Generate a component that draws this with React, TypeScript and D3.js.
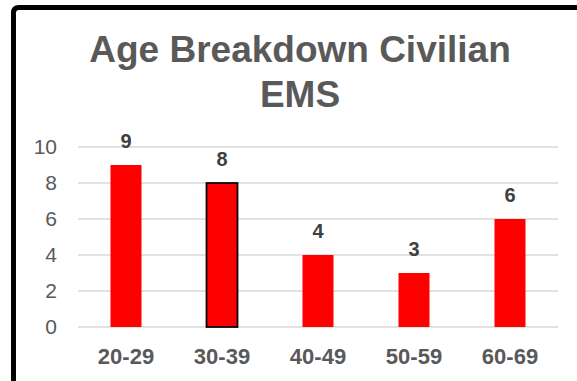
import React from "react";
import * as d3 from "d3";

const categories = ["20-29", "30-39", "40-49", "50-59", "60-69"];
const counts = [9, 8, 4, 3, 6];
const yTicks = [0, 2, 4, 6, 8, 10];
const outlined = ["30-39"];
const titleLines = ["Age Breakdown Civilian", "EMS"];

const W = 577;
const H = 381;
const FONT = "Arial, 'Liberation Sans', sans-serif";

export default function App() {
  const x = d3
    .scaleBand<string>()
    .domain(categories)
    .range([78, 558])
    .paddingInner(0.677)
    .paddingOuter(0.3385);
  const y = d3.scaleLinear().domain([0, 10]).range([327, 147]);

  return (
    <svg
      width={W}
      height={H}
      style={{ position: "absolute", left: 0, top: 0, background: "#fff" }}
      fontFamily={FONT}
    >
      {/* chart frame */}
      <path
        d="M13.5,420 V13 Q13.5,7.5 19,7.5 H620"
        fill="none"
        stroke="#000"
        strokeWidth={5}
      />

      {/* title */}
      {titleLines.map((t, i) => (
        <text
          key={t}
          x={300}
          y={62 + i * 45}
          textAnchor="middle"
          fontSize={37}
          fontWeight="bold"
          fill="#595959"
        >
          {t}
        </text>
      ))}

      {/* gridlines */}
      {yTicks.map((t) => (
        <line
          key={t}
          x1={78}
          x2={558}
          y1={y(t)}
          y2={y(t)}
          stroke="#d9d9d9"
          strokeWidth={1.5}
        />
      ))}

      {/* y tick labels */}
      {yTicks.map((t) => (
        <text
          key={t}
          x={57}
          y={y(t)}
          dy="0.35em"
          textAnchor="end"
          fontSize={21}
          fill="#595959"
        >
          {t}
        </text>
      ))}

      {/* bars */}
      {categories.map((c, i) => {
        const hasOutline = outlined.includes(c);
        return (
          <rect
            key={c}
            x={x(c)!}
            y={y(counts[i])}
            width={x.bandwidth()}
            height={y(0) - y(counts[i])}
            fill="#ff0000"
            stroke={hasOutline ? "#000" : "none"}
            strokeWidth={hasOutline ? 1.75 : 0}
          />
        );
      })}

      {/* value labels */}
      {categories.map((c, i) => (
        <text
          key={c}
          x={x(c)! + x.bandwidth() / 2}
          y={y(counts[i]) - 17}
          textAnchor="middle"
          fontSize={20}
          fontWeight="bold"
          fill="#404040"
        >
          {counts[i]}
        </text>
      ))}

      {/* category labels */}
      {categories.map((c) => (
        <text
          key={c}
          x={x(c)! + x.bandwidth() / 2}
          y={364}
          textAnchor="middle"
          fontSize={22}
          fontWeight="bold"
          fill="#595959"
        >
          {c}
        </text>
      ))}
    </svg>
  );
}
